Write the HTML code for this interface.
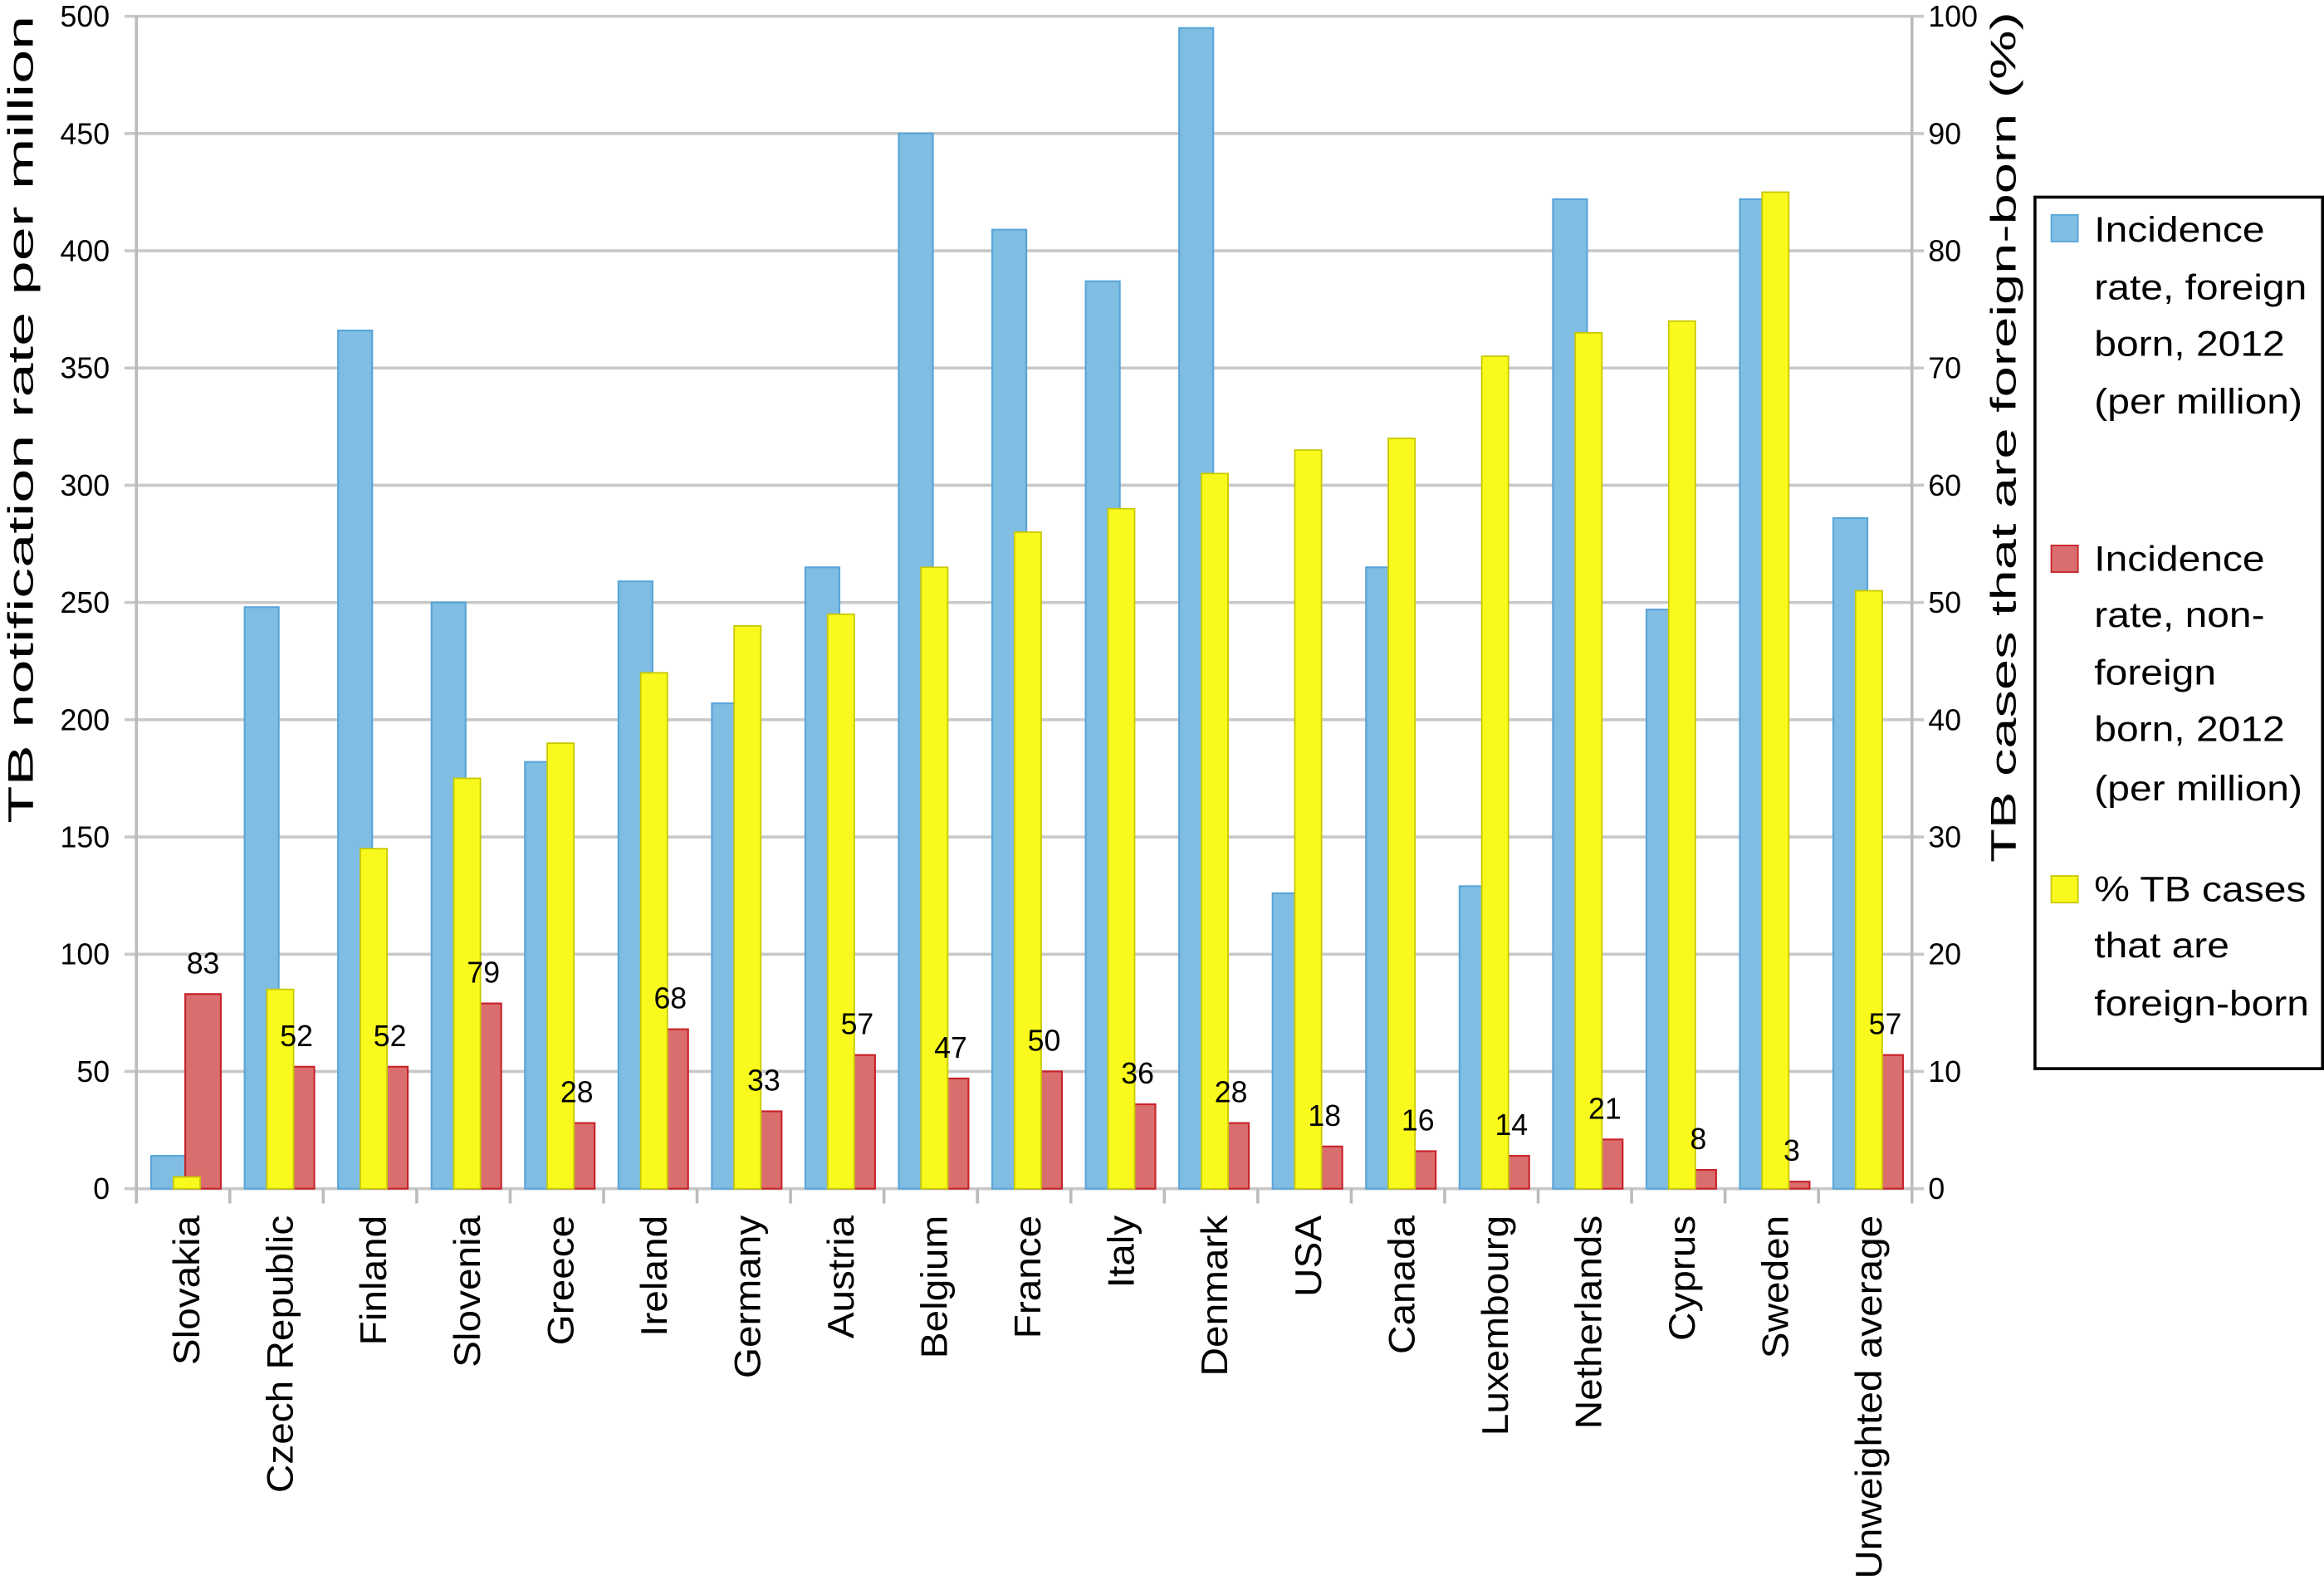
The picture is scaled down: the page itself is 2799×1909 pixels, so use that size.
<!DOCTYPE html>
<html><head><meta charset="utf-8"><style>
html,body{margin:0;padding:0;background:#fff;}
svg{display:block;font-family:"Liberation Sans",Arial,sans-serif;}
</style></head><body>
<svg id="chart" width="2799" height="1909" viewBox="0 0 1568 1069.4" preserveAspectRatio="none" xmlns="http://www.w3.org/2000/svg">
<g id="grid"></g>
<g id="bars"></g>
<g id="axes"></g>
<text transform="translate(22,283) rotate(-90)" text-anchor="middle" font-size="24" textLength="545" lengthAdjust="spacingAndGlyphs">TB notification rate per million</text>
<text transform="translate(1360,295) rotate(-90)" text-anchor="middle" font-size="24" textLength="574" lengthAdjust="spacingAndGlyphs">TB cases that are foreign-born (%)</text>
<g>
<rect x="1373" y="133" width="194" height="588" fill="#fff" stroke="#000" stroke-width="2"/>
<rect x="1384" y="145" width="18" height="18" fill="#7fbde3" stroke="#5aa5d8"/>
<text class="st" font-size="24"><tspan x="1413" y="163">Incidence</tspan><tspan x="1413" y="202">rate, foreign</tspan><tspan x="1413" y="240">born, 2012</tspan><tspan x="1413" y="279">(per million)</tspan></text>
<rect x="1384" y="368" width="18" height="18" fill="#da6e6e" stroke="#c8232a"/>
<text class="st" font-size="24"><tspan x="1413" y="385">Incidence</tspan><tspan x="1413" y="423">rate, non-</tspan><tspan x="1413" y="462">foreign</tspan><tspan x="1413" y="500">born, 2012</tspan><tspan x="1413" y="540">(per million)</tspan></text>
<rect x="1384" y="591" width="18" height="18" fill="#f9f91e" stroke="#c8c800"/>
<text class="st" font-size="24"><tspan x="1413" y="608">% TB cases</tspan><tspan x="1413" y="646">that are</tspan><tspan x="1413" y="685">foreign-born</tspan></text>
</g>
</svg>
<script>
const categories = ["Slovakia","Czech Republic","Finland","Slovenia","Greece","Ireland","Germany","Austria","Belgium","France","Italy","Denmark","USA","Canada","Luxembourg","Netherlands","Cyprus","Sweden","Unweighted average"];
const foreignRate = [14,248,366,250,182,259,207,265,450,409,387,495,126,265,129,422,247,422,286];
const nonForeignRate = [83,52,52,79,28,68,33,57,47,50,36,28,18,16,14,21,8,3,57];
const percentForeign = [1,17,29,35,38,44,48,49,53,56,58,61,63,64,71,73,74,85,51];
const leftTicks = [0,50,100,150,200,250,300,350,400,450,500];
const rightTicks = [0,10,20,30,40,50,60,70,80,90,100];

const NS = "http://www.w3.org/2000/svg";
const X0 = 92, X1 = 1290, Y0 = 802, Y1 = 11;
const band = (X1 - X0) / categories.length;
const yL = v => Y0 - (v / 500) * (Y0 - Y1);
const yR = v => Y0 - (v / 100) * (Y0 - Y1);
const xC = i => X0 + i * band;
function mk(tag, attrs, parent) {
  const e = document.createElementNS(NS, tag);
  for (const k in attrs) e.setAttribute(k, attrs[k]);
  parent.appendChild(e);
  return e;
}
const grid = document.getElementById('grid');
const bars = document.getElementById('bars');
const axes = document.getElementById('axes');

leftTicks.forEach(t => {
  const l = mk('line', {x1: X0 - 8, x2: X1 + 8, y1: yL(t), y2: yL(t), stroke: '#c8c8c8', 'stroke-width': 2}, grid);
  
  
  const tx = mk('text', {x: 74, y: yL(t) + 7, 'text-anchor': 'end', 'font-size': 20}, axes);
  tx.textContent = t;
  
  
});
rightTicks.forEach(t => {
  const tx = mk('text', {x: 1301, y: yR(t) + 7, 'font-size': 20}, axes);
  tx.textContent = t;
  
  
});
const la = mk('line', {x1: X0, x2: X0, y1: Y1, y2: Y0 + 10, stroke: '#bbb', 'stroke-width': 2}, axes);


const ra = mk('line', {x1: X1, x2: X1, y1: Y1, y2: Y0 + 10, stroke: '#bbb', 'stroke-width': 2}, axes);


for (let i = 1; i < categories.length; i++) {
  const tk = mk('line', {x1: xC(i), x2: xC(i), y1: Y0, y2: Y0 + 10, stroke: '#bbb', 'stroke-width': 2}, axes);
  
  
}

categories.forEach((c, i) => {
  const x = xC(i);
  const b = mk('rect', {x: x + 10, y: yL(foreignRate[i]), width: 23, height: Y0 - yL(foreignRate[i]), fill: '#7fbde3', stroke: '#5aa5d8', 'stroke-width': 1.2}, bars);
  
  
  const r = mk('rect', {x: x + 33, y: yL(nonForeignRate[i]), width: 24, height: Y0 - yL(nonForeignRate[i]), fill: '#da6e6e', stroke: '#c8232a', 'stroke-width': 1.2}, bars);
  
  
  const yb = mk('rect', {x: x + 25, y: yR(percentForeign[i]), width: 18, height: Y0 - yR(percentForeign[i]), fill: '#f9f91e', stroke: '#c8c800', 'stroke-width': 1}, bars);
  
  
  const lb = mk('text', {x: x + 45, y: yL(nonForeignRate[i]) - 14, 'text-anchor': 'middle', 'font-size': 20}, bars);
  lb.textContent = nonForeignRate[i];
  
  
  const ct = mk('text', {transform: 'translate(' + (x + band / 2 + 11) + ',820) rotate(-90)', 'text-anchor': 'end', 'font-size': 25}, axes);
  ct.textContent = c;
  
  
  ct.classList.add('stc');
});
// stretch text to match the wider reference glyphs
document.querySelectorAll('text.stc').forEach(t => {
  const w = t.getComputedTextLength();
  t.setAttribute('textLength', (w * 1.07).toFixed(1));
  t.setAttribute('lengthAdjust', 'spacingAndGlyphs');
});
document.querySelectorAll('text.st tspan').forEach(t => {
  const w = t.getComputedTextLength();
  t.setAttribute('textLength', (w * 1.12).toFixed(1));
  t.setAttribute('lengthAdjust', 'spacingAndGlyphs');
});
</script>
</body></html>
